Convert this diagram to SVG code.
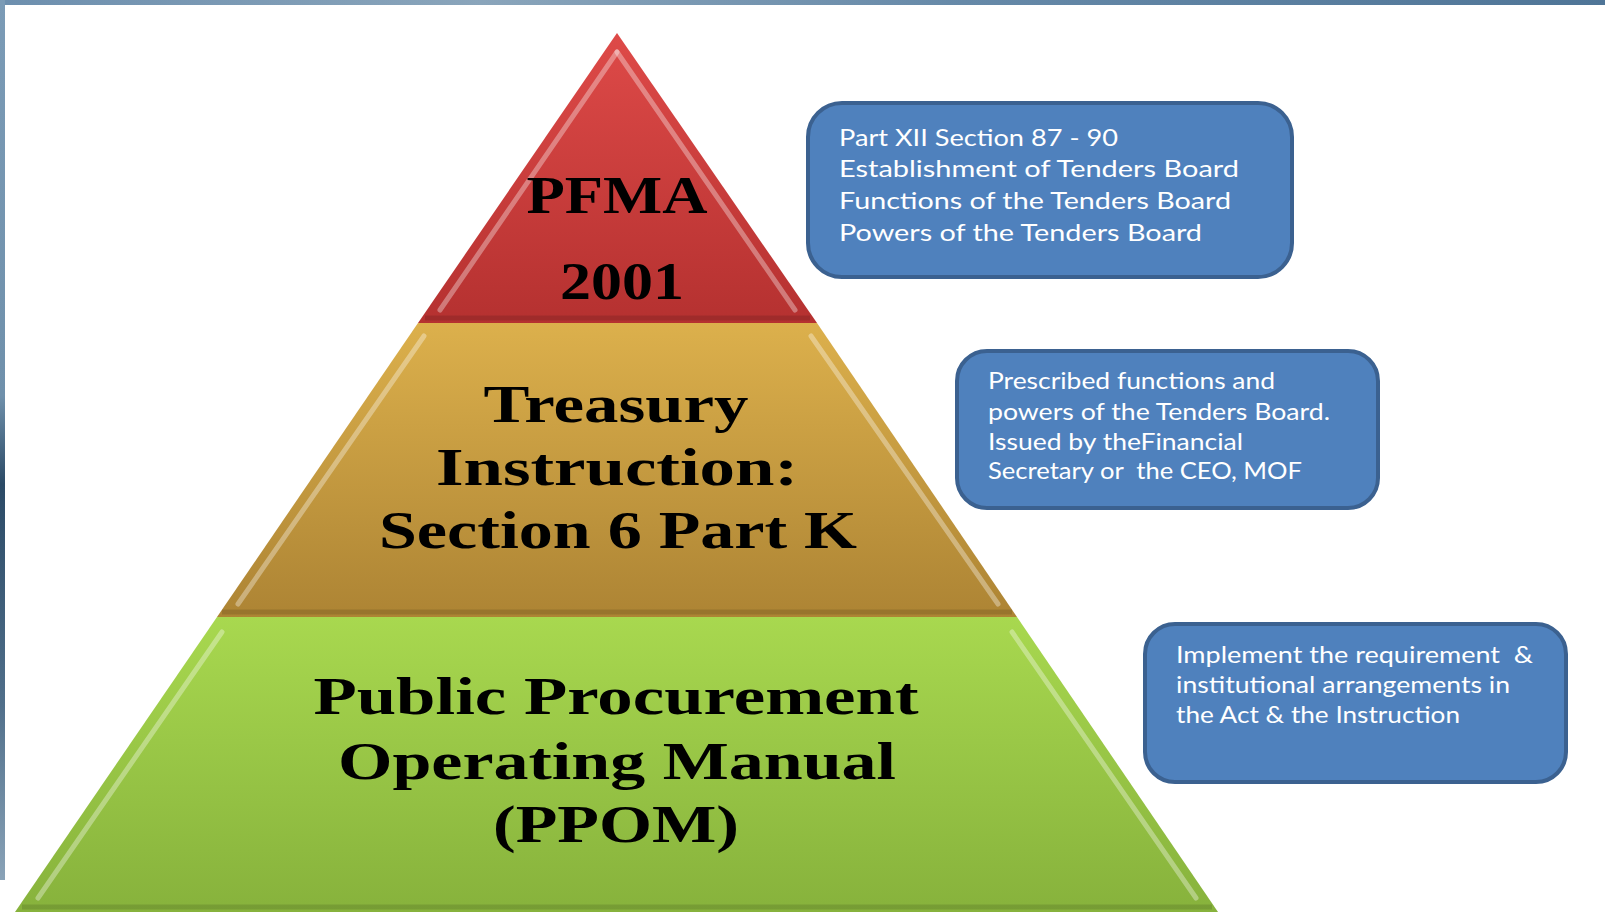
<svg xmlns="http://www.w3.org/2000/svg" width="1605" height="917" viewBox="0 0 1605 917">
<defs>
<linearGradient id="gRed" x1="0" y1="0" x2="0" y2="1"><stop offset="0" stop-color="#de4a48"/><stop offset="1" stop-color="#b53130"/></linearGradient>
<linearGradient id="gOra" x1="0" y1="0" x2="0" y2="1"><stop offset="0" stop-color="#dcb04c"/><stop offset="1" stop-color="#ad8434"/></linearGradient>
<linearGradient id="gGrn" x1="0" y1="0" x2="0" y2="1"><stop offset="0" stop-color="#a8d84f"/><stop offset="1" stop-color="#87b23c"/></linearGradient>
<linearGradient id="gTop" x1="0" y1="0" x2="1" y2="0"><stop offset="0" stop-color="#6d8fae"/><stop offset="0.3" stop-color="#8aa5bb"/><stop offset="0.6" stop-color="#6689a8"/><stop offset="1" stop-color="#4f7597"/></linearGradient>
<linearGradient id="gLeft" x1="0" y1="0" x2="0" y2="1"><stop offset="0" stop-color="#7b9bb6"/><stop offset="0.45" stop-color="#6f90ab"/><stop offset="0.55" stop-color="#2b4a66"/><stop offset="0.8" stop-color="#506f8a"/><stop offset="1" stop-color="#8aa3b8"/></linearGradient>
</defs>
<style>
.box{fill:#4f81bd;stroke:#3b6190;stroke-width:4}
.bt{font-family:Lato,"Open Sans","Liberation Sans",sans-serif;font-size:24px;fill:#ffffff;white-space:pre}
.pt{font-family:"Liberation Serif","DejaVu Serif",serif;font-weight:bold;font-size:52px;fill:#000000;text-anchor:middle}
.hl{fill:none;stroke:#ffffff;stroke-opacity:0.35;stroke-width:5;stroke-linecap:round}
.sh{fill:none;stroke:#000000;stroke-opacity:0.12;stroke-width:5}
</style>
<rect x="0" y="0" width="1605" height="917" fill="#ffffff"/>
<g id="background">
<rect x="0" y="0" width="1605" height="5" fill="url(#gTop)"/>
<rect x="0" y="0" width="5" height="880" fill="url(#gLeft)"/>
</g>
<g id="tier-pfma">
<polygon points="617,33 418,323 817,323" fill="url(#gRed)"/>
<polyline class="hl" points="440,310 617,52"/>
<polyline class="hl" points="617,52 795,310" stroke-opacity="0.2"/>
<line class="sh" x1="425" y1="318" x2="810" y2="318"/>
<text class="pt" x="617" y="213" textLength="181" lengthAdjust="spacingAndGlyphs">PFMA</text>
<text class="pt" x="622" y="299" textLength="124" lengthAdjust="spacingAndGlyphs">2001</text>
</g>
<g id="tier-treasury">
<polygon points="418,323 817,323 1017,617 217,617" fill="url(#gOra)"/>
<polyline class="hl" points="238,604 424,336"/>
<polyline class="hl" points="811,336 998,604" stroke-opacity="0.3"/>
<line class="sh" x1="222" y1="612" x2="1012" y2="612"/>
<text class="pt" x="616" y="422" textLength="265" lengthAdjust="spacingAndGlyphs">Treasury</text>
<text class="pt" x="617" y="485" textLength="362" lengthAdjust="spacingAndGlyphs">Instruction:</text>
<text class="pt" x="618" y="548" textLength="478" lengthAdjust="spacingAndGlyphs">Section 6 Part K</text>
</g>
<g id="tier-ppom">
<polygon points="217,617 1017,617 1218,912 15,912" fill="url(#gGrn)"/>
<polyline class="hl" points="38,898 222,632"/>
<polyline class="hl" points="1012,632 1196,898" stroke-opacity="0.3"/>
<line class="sh" x1="22" y1="907" x2="1212" y2="907"/>
<text class="pt" x="616" y="714" textLength="605" lengthAdjust="spacingAndGlyphs">Public Procurement</text>
<text class="pt" x="617" y="779" textLength="558" lengthAdjust="spacingAndGlyphs">Operating Manual</text>
<text class="pt" x="616" y="842" textLength="246" lengthAdjust="spacingAndGlyphs">(PPOM)</text>
</g>
<g id="box-pfma">
<rect class="box" x="808" y="103" width="484" height="174" rx="34"/>
<text class="bt" x="839" y="146" textLength="279" lengthAdjust="spacingAndGlyphs">Part XII Section 87 - 90</text>
<text class="bt" x="839" y="177" textLength="400" lengthAdjust="spacingAndGlyphs">Establishment of Tenders Board</text>
<text class="bt" x="839" y="209" textLength="392" lengthAdjust="spacingAndGlyphs">Functions of the Tenders Board</text>
<text class="bt" x="839" y="241" textLength="363" lengthAdjust="spacingAndGlyphs">Powers of the Tenders Board</text>
</g>
<g id="box-treasury">
<rect class="box" x="957" y="351" width="421" height="157" rx="30"/>
<text class="bt" x="988" y="389" textLength="287" lengthAdjust="spacingAndGlyphs">Prescribed functions and</text>
<text class="bt" x="988" y="420" textLength="342" lengthAdjust="spacingAndGlyphs">powers of the Tenders Board.</text>
<text class="bt" x="988" y="450" textLength="255" lengthAdjust="spacingAndGlyphs">Issued by theFinancial</text>
<text class="bt" x="988" y="479" textLength="314" lengthAdjust="spacingAndGlyphs" xml:space="preserve">Secretary or  the CEO, MOF</text>
</g>
<g id="box-ppom">
<rect class="box" x="1145" y="624" width="421" height="158" rx="30"/>
<text class="bt" x="1176" y="663" textLength="357" lengthAdjust="spacingAndGlyphs" xml:space="preserve">Implement the requirement  &amp;</text>
<text class="bt" x="1176" y="693" textLength="334" lengthAdjust="spacingAndGlyphs">institutional arrangements in</text>
<text class="bt" x="1176" y="723" textLength="284" lengthAdjust="spacingAndGlyphs">the Act &amp; the Instruction</text>
</g>
<g id="connectors"/>
</svg>
